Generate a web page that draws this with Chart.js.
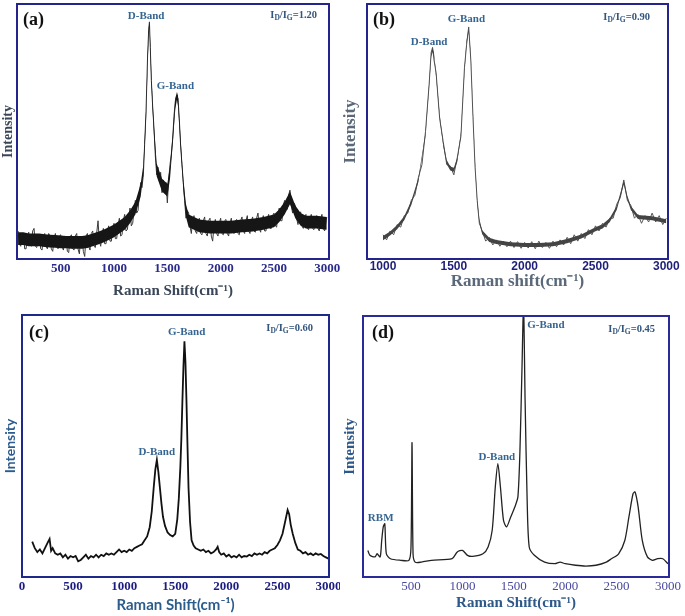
<!DOCTYPE html>
<html><head><meta charset="utf-8">
<script src="https://cdn.jsdelivr.net/npm/chart.js@4.4.1/dist/chart.umd.min.js"></script>
<style>
html,body{margin:0;padding:0;background:#fff;width:685px;height:616px;overflow:hidden}
canvas{position:absolute}
</style></head><body>
<canvas id="ca" width="340" height="300" style="left:0;top:0"></canvas>
<canvas id="cb" width="345" height="300" style="left:340px;top:0"></canvas>
<canvas id="cc" width="340" height="316" style="left:0;top:300px"></canvas>
<canvas id="cd" width="345" height="316" style="left:340px;top:300px"></canvas>
<script>
// ---------- DATA ----------
// Panel (a) : noisy trace
const A_SHIFT=[100,112,125,137,150,162,175,187,200,212,225,237,250,262,275,287,300,312,325,337,350,362,375,387,400,412,425,437,450,462,475,487,500,512,525,537,550,562,575,587,600,612,625,637,650,662,675,687,700,712,725,737,750,762,775,787,800,812,825,837,850,862,875,887,900,912,925,937,950,962,975,987,1000,1012,1025,1037,1050,1062,1075,1087,1100,1112,1125,1137,1150,1162,1175,1187,1200,1212,1225,1237,1250,1262,1275,1287,1300,1315,1325,1332,1340,1350,1362,1375,1388,1400,1412,1425,1437,1450,1462,1475,1487,1500,1512,1525,1537,1550,1562,1575,1587,1600,1612,1625,1637,1650,1662,1675,1687,1700,1712,1725,1737,1750,1762,1775,1787,1800,1812,1825,1837,1850,1862,1875,1887,1900,1912,1925,1937,1950,1962,1975,1987,2000,2012,2025,2037,2050,2062,2075,2087,2100,2112,2125,2137,2150,2162,2175,2187,2200,2212,2225,2237,2250,2262,2275,2287,2300,2312,2325,2337,2350,2362,2375,2387,2400,2412,2425,2437,2450,2462,2475,2487,2500,2512,2525,2537,2550,2562,2575,2587,2600,2612,2625,2637,2650,2662,2675,2687,2700,2712,2725,2737,2750,2762,2775,2787,2800,2812,2825,2837,2850,2862,2875,2887,2900,2912,2925,2937,2950,2962,2975,2995];
const A_INT=[11,6,5,10,10,4,4,9,10.5,6,5,11,12,5,4.5,8,9.5,4,3.5,9,10,5,4,10,9,4,3,8,10,5,4,9,9.5,5,3.5,8,9,3,2.5,8.5,9.5,4,3.5,9,10,4,2,8,9,3,1,9,10,5,3.5,10,11,5,4.5,10,15,7,5,10,12,6,6,11,13,7,7,12,14,8,8,13,16,9,9.5,15,17.5,11,11.5,16,20,13,14,19,23,18,19,25,30,28,33,45,58,80,90,93,83,70,60,51,40,33,36,31,34,26,31,27,30,22,31,37,41,47,56,62,64,63,55,44,37,30,23,16,19,18,13,10,15,17,11,10,14,16,10,9.5,15,16.5,10,9,15,16,9,7,13,15.5,10,9,14,16,10,9.5,15,15.5,10,9,14,16,11,10,15,15.5,10,9.5,15,16.5,11,10,15,17,11,10,15,16.5,11,10.5,16,18,12,10.5,15,17,11,11,16,17.5,12,12,17,18,13,12.5,18,20,15,15,21,23,20,19.5,25,27,21,18,22,21,16,13.5,17,18.5,13,12,16,17.5,12,11.5,16,17.5,12,11.5,16,17,12,11,16,17.5,12,11,16.5];
// Panel (a) : dense core of the noise band (upper / lower edge)
const A_BAND_SHIFT=[100,150,200,250,300,350,400,450,500,550,600,650,700,750,800,850,900,950,1000,1050,1100,1150,1200,1250,1275,1300,1315,1325,1332,1340,1350,1362,1375,1400,1450,1500,1525,1550,1575,1590,1600,1625,1650,1675,1700,1750,1800,1900,2000,2100,2200,2300,2400,2500,2550,2600,2650,2700,2750,2800,2900,2995];
const A_BAND_HI=[10.5,10.5,10,10,10,9.7,9.5,9.4,9.2,9,9,9,9,9.3,10,10.7,11.5,12.5,13.5,15,16.5,19,22.5,29.5,37,58,80,90.5,93,85,73,62,52,37.5,31.5,29.5,36.5,49,63,65.5,64,47,31,21.5,17.5,16.5,15.5,15,15,15,15.5,15.8,16.5,17.5,19.5,22.5,26.5,21,18,17,17,16.5];
const A_BAND_LO=[5.5,5.5,5,5,5,4.7,4.5,4.4,4.2,4.2,4,4,4,4.3,5,5.7,6.5,7.5,8.5,10,11.5,14,17.5,24.5,33,54,76,87.5,91,81,69,58,48,32.5,26.5,24.5,31.5,45,59,62.5,60,43,27,16.5,12.5,11.5,10.5,10,10,10,10.5,10.8,11.5,12.5,14.5,17.5,21.5,16,13,12,12,11.5];
const A_TICKS=[500,1000,1500,2000,2500,3000];
const A_LABELS=['D-Band','G-Band'], A_LABEL_SHIFT=[1301,1576], A_LABEL_INT=[95.3,67.8];
const A_RATIO='1.20';

// Panel (b) : noisy trace
const B_SHIFT=[1000,1025,1050,1075,1100,1125,1150,1175,1200,1225,1250,1275,1300,1325,1340,1350,1360,1375,1400,1425,1450,1475,1500,1525,1550,1575,1590,1605,1620,1635,1650,1665,1680,1700,1725,1750,1775,1800,1825,1850,1875,1900,1925,1950,1975,2000,2025,2050,2075,2100,2125,2150,2175,2200,2225,2250,2275,2300,2325,2350,2375,2400,2425,2450,2475,2500,2525,2550,2575,2600,2625,2650,2675,2700,2725,2750,2775,2800,2825,2850,2875,2900,2925,2950,2975,3000];
const B_INT=[9.5,7.5,11,9.5,13.5,12.5,17,18,23,25,32,37,50,68,81,83,78,73,55,46,37,36.5,33,40,48,75,84,91,78,56,36,23,14,11,7,8.5,5.5,7.5,5,7,4.8,7,4.5,6.8,4.2,6.5,4.3,6.8,4,7,4.5,6.5,4.2,7,4.8,7.5,5.5,8.5,6,9.5,7,10,8,11.5,9.5,13,11,14,12.5,16,16,21.5,24,31,23,21,16,17.5,14,17,14.5,18,14.5,17,13.5,16];
// Panel (b) : core of the noise band (upper / lower edge)
const B_BAND_SHIFT=[1000,1050,1100,1150,1200,1250,1300,1325,1340,1350,1360,1375,1400,1425,1450,1475,1500,1525,1550,1575,1590,1605,1620,1635,1650,1665,1680,1700,1750,1800,1900,2000,2100,2200,2300,2400,2500,2550,2600,2650,2700,2725,2750,2800,2900,3000];
const B_BAND_HI=[9,10.8,13.3,16.8,22.8,31.8,49.8,68.8,80.8,82.8,80.8,72.8,56.8,45.8,38.8,36.3,35.8,39.8,49.8,74.8,85.8,90.8,79.8,57.8,37.8,23.3,15.8,11.3,8.3,7.5,6.6,6.3,6.3,6.6,7.8,9.6,12.5,13.6,16,20.8,30.8,24.8,20.8,17.3,16.8,15.6];
const B_BAND_LO=[7.4,9.2,11.7,15.2,21.2,30.2,48.2,67.2,79.2,81.2,79.2,71.2,55.2,44.2,37.2,34.7,34.2,38.2,48.2,73.2,84.2,89.2,78.2,56.2,36.2,21.7,14.2,9.7,6.7,5.9,5,4.7,4.7,5,6.2,8,10.9,12,14.4,19.2,29.2,23.2,19.2,15.7,15.2,14];
const B_TICKS=[1000,1500,2000,2500,3000];
const B_LABELS=['D-Band','G-Band'], B_LABEL_SHIFT=[1325,1589], B_LABEL_INT=[85.1,94.1];
const B_RATIO='0.90';

// Panel (c)
const C_SHIFT=[100,125,150,175,200,225,250,270,285,300,325,350,375,400,425,450,475,500,525,550,575,600,625,650,675,700,725,750,775,800,825,850,875,900,925,950,975,1000,1025,1050,1075,1100,1125,1150,1175,1200,1225,1250,1270,1290,1305,1320,1335,1350,1365,1380,1400,1425,1450,1475,1500,1520,1535,1550,1560,1570,1580,1590,1600,1610,1620,1630,1645,1660,1680,1700,1725,1750,1775,1800,1825,1850,1875,1900,1915,1930,1950,1975,2000,2025,2050,2075,2100,2125,2150,2175,2200,2225,2250,2275,2300,2325,2350,2375,2400,2425,2450,2475,2500,2525,2550,2575,2600,2615,2630,2650,2675,2700,2725,2750,2775,2800,2825,2850,2875,2900,2925,2950,2975,3000];
const C_INT=[13.5,11,9.5,10.5,9,11,13,14.5,10,11,9,8.5,9,7.5,8.5,7,8,7.5,8,6,6.5,7.5,8.5,7,8,7.5,8.5,7.5,8.5,8,9,8.5,9,8.5,9.5,10.5,9.5,10,9.5,10.5,10,11,11.5,12,12.5,14,15.5,19,25,34.5,41,44.7,40,34,28,23,19.5,17,16,15.5,16.5,22,30,42,53,67,80,90,82,67,50,34,21,14,12,11,10.5,10,10.5,9.5,10,9,9.5,10.5,11.5,9.5,8.5,9,7.8,8.5,7.5,8,7.5,8.5,7.5,8,7.8,8.5,8,9,8.5,9,8.5,9.5,9,10,10.5,11,12.2,14,16.5,21,25.6,24,20,16.5,13,10.5,10,9,9.5,8.5,9,8.3,9,8.5,8.8,8,7.5,7];
const C_TICKS=[0,500,1000,1500,2000,2500,3000];
const C_LABELS=['G-Band','D-Band'], C_LABEL_SHIFT=[1612,1319], C_LABEL_INT=[93.5,47.7];
const C_RATIO='0.60';

// Panel (d)
const D_SHIFT=[80,100,150,170,200,215,230,245,260,300,400,480,500,510,520,540,600,700,900,950,1000,1050,1100,1200,1250,1290,1320,1345,1370,1400,1430,1470,1510,1540,1560,1580,1595,1610,1630,1650,1700,1800,1900,1950,2000,2100,2200,2300,2400,2450,2520,2580,2620,2660,2680,2710,2750,2800,2850,2900,2950,3000];
const D_INT=[10.2,8.3,7.7,8.9,7.7,14,19.2,20.4,8.9,7,6.4,6.4,11.5,51.5,8.9,5.7,5.7,6.4,7,9.6,10.2,8.3,7.9,8.9,11.5,17.9,34.5,43.4,34.5,21.7,19.2,23,26.8,30.7,48.5,80.5,104,67.7,29.4,11.5,8.3,5.7,5.1,5.7,5.1,4.5,4.2,4.5,5.7,7,8.9,14,23,31.9,32.6,26.8,14,7.7,6.4,7,7,5.1];
const D_TICKS=[500,1000,1500,2000,2500,3000];
const D_LABELS=['G-Band','D-Band','RBM'], D_LABEL_SHIFT=[1812,1335,205], D_LABEL_INT=[96.6,46,22.6];
const D_RATIO='0.45';

// ---------- DRAWING ----------
const SERIF='"Liberation Serif","Times New Roman",serif';
const SANS='"Liberation Sans",Arial,sans-serif';

const deco={
  id:'deco',
  afterDraw(chart,args,o){
    const {ctx,chartArea:a,scales:{x,y}}=chart;
    ctx.save();
    ctx.strokeStyle=o.frameColor; ctx.lineWidth=2;
    ctx.strokeRect(a.left,a.top,a.right-a.left,a.bottom-a.top);
    ctx.fillStyle='#111'; ctx.font='bold 18px '+SERIF; ctx.textBaseline='middle'; ctx.textAlign='left';
    ctx.fillText(o.panel,a.left+o.pdx,a.top+o.pdy);
    ctx.font='bold 11px '+SERIF; ctx.fillStyle=o.bandColor; ctx.textAlign='center';
    o.labels.forEach((t,i)=>ctx.fillText(t,x.getPixelForValue(o.lx[i]),y.getPixelForValue(o.ly[i])));
    const main='bold 10.5px '+SERIF, sub='bold 7.5px '+SERIF;
    const parts=[['I',main,0],['D',sub,3],['/I',main,0],['G',sub,3],['='+o.ratio,main,0]];
    let w=0; parts.forEach(p=>{ctx.font=p[1]; w+=ctx.measureText(p[0]).width;});
    let cx=a.right-o.rdx-w; const cy=a.top+o.rdy;
    ctx.textAlign='left'; ctx.fillStyle=o.ratioColor;
    parts.forEach(p=>{ctx.font=p[1]; ctx.fillText(p[0],cx,cy+p[2]); cx+=ctx.measureText(p[0]).width;});
    ctx.restore();
  }
};

function makeChart(id,c){
  const pts=c.shift.map((s,i)=>({x:s,y:c.int[i]}));
  const datasets=[];
  if(c.band){
    datasets.push({data:c.band.shift.map((s,i)=>({x:s,y:c.band.lo[i]})),borderWidth:0,pointRadius:0,fill:false,borderColor:'rgba(0,0,0,0)'});
    datasets.push({data:c.band.shift.map((s,i)=>({x:s,y:c.band.hi[i]})),borderWidth:0,pointRadius:0,fill:'-1',backgroundColor:c.band.color,borderColor:'rgba(0,0,0,0)'});
  }
  datasets.push({data:pts,borderColor:c.lineColor,borderWidth:c.lineWidth,pointRadius:0,tension:c.tension||0,fill:false});
  return new Chart(document.getElementById(id),{
    type:'line',
    data:{datasets},
    options:{
      responsive:false,animation:false,devicePixelRatio:1,
      layout:{padding:{left:0,top:c.padTop,right:c.padRight,bottom:0}},
      plugins:{legend:{display:false},tooltip:{enabled:false},
        deco:{frameColor:c.frameColor,panel:c.panel,pdx:c.pdx,pdy:c.pdy,labels:c.labels,lx:c.lx,ly:c.ly,
          bandColor:'#356592',ratio:c.ratio,rdx:c.rdx,rdy:c.rdy,ratioColor:'#34557e'}},
      scales:{
        x:{type:'linear',min:c.xmin,max:c.xmax,
          afterBuildTicks:s=>{s.ticks=c.ticks.map(v=>({value:v}));},
          afterFit:s=>{s.height=c.xh;s.paddingLeft=0;s.paddingRight=0;},
          grid:{display:false,drawTicks:false},border:{display:false},
          ticks:{color:c.tickColor,font:c.tickFont,padding:c.tickPad,maxRotation:0,autoSkip:false,callback:v=>String(v)},
          title:{display:true,text:c.xtitle,color:c.titleColor,font:c.xtitleFont,padding:{top:0,bottom:c.xtitlePad}}},
        y:{min:0,max:100,
          afterFit:s=>{s.width=c.yw;},
          grid:{display:false,drawTicks:false},border:{display:false},ticks:{display:false},
          title:{display:true,text:'Intensity',color:c.titleColor,font:c.ytitleFont,padding:{top:c.ytitlePad,bottom:0}}}
      }
    },
    plugins:[deco]
  });
}

makeChart('ca',{shift:A_SHIFT,int:A_INT,band:{shift:A_BAND_SHIFT,hi:A_BAND_HI,lo:A_BAND_LO,color:'#161616'},
  ticks:A_TICKS,xmin:90,xmax:3016,labels:A_LABELS,lx:A_LABEL_SHIFT,ly:A_LABEL_INT,ratio:A_RATIO,
  lineColor:'#3a3a3a',lineWidth:1,padTop:4,padRight:11,xh:41,yw:17,frameColor:'#25248c',
  tickColor:'#2a2a8c',tickFont:{family:SERIF,size:13,weight:'bold'},tickPad:2,
  xtitle:'Raman Shift(cm\u207B\u00B9)',titleColor:'#3a4657',xtitleFont:{family:SERIF,size:15,weight:'bold'},xtitlePad:0,
  ytitleFont:{family:SERIF,size:14,weight:'bold'},ytitlePad:0,
  panel:'(a)',pdx:6,pdy:16,rdx:12,rdy:11});

makeChart('cb',{shift:B_SHIFT,int:B_INT,band:{shift:B_BAND_SHIFT,hi:B_BAND_HI,lo:B_BAND_LO,color:'#444'},
  ticks:B_TICKS,xmin:887,xmax:3012,labels:B_LABELS,lx:B_LABEL_SHIFT,ly:B_LABEL_INT,ratio:B_RATIO,
  lineColor:'#555',lineWidth:1,padTop:4,padRight:17,xh:41,yw:27,frameColor:'#25248c',
  tickColor:'#1f1f7a',tickFont:{family:SANS,size:12,weight:'bold'},tickPad:0,
  xtitle:'Raman shift(cm\u207B\u00B9)',titleColor:'#5a6879',xtitleFont:{family:SERIF,size:17,weight:'bold'},xtitlePad:8,
  ytitleFont:{family:SERIF,size:17,weight:'bold'},ytitlePad:0,
  panel:'(b)',pdx:6,pdy:16,rdx:18,rdy:13});

makeChart('cc',{shift:C_SHIFT,int:C_INT,ticks:C_TICKS,xmin:0,xmax:3005,labels:C_LABELS,lx:C_LABEL_SHIFT,ly:C_LABEL_INT,ratio:C_RATIO,
  lineColor:'#111',lineWidth:1.8,padTop:15,padRight:11,xh:39,yw:22,frameColor:'#1e2a8a',
  tickColor:'#1c1c80',tickFont:{family:SERIF,size:13,weight:'bold'},tickPad:2,
  xtitle:'Raman Shift(cm\u207B\u00B9)',titleColor:'#2c5c8c',xtitleFont:{family:'Lato',size:15,weight:'bold'},xtitlePad:2,
  ytitleFont:{family:'Lato',size:14,weight:'bold'},ytitlePad:2,
  panel:'(c)',pdx:7,pdy:18,rdx:16,rdy:13});

makeChart('cd',{shift:D_SHIFT,int:D_INT,ticks:D_TICKS,xmin:33,xmax:3010,labels:D_LABELS,lx:D_LABEL_SHIFT,ly:D_LABEL_INT,ratio:D_RATIO,
  lineColor:'#222',lineWidth:1.3,tension:0.25,padTop:16,padRight:16,xh:39,yw:23,frameColor:'#2a2a9a',
  tickColor:'#4848a0',tickFont:{family:SERIF,size:13},tickPad:2,
  xtitle:'Raman Shift(cm\u207B\u00B9)',titleColor:'#2d5888',xtitleFont:{family:SERIF,size:15,weight:'bold'},xtitlePad:4,
  ytitleFont:{family:SERIF,size:15,weight:'bold'},ytitlePad:1,
  panel:'(d)',pdx:9,pdy:17,rdx:14,rdy:13});
</script>
</body></html>
